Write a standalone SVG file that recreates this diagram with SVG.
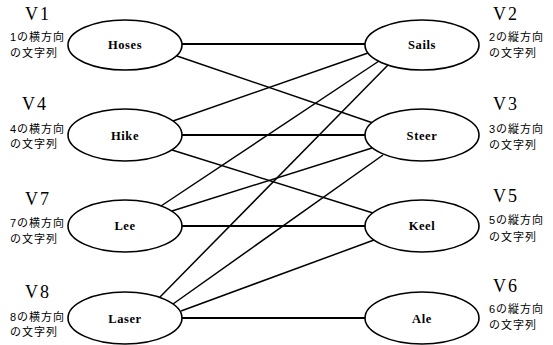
<svg xmlns="http://www.w3.org/2000/svg" width="553" height="345" viewBox="0 0 553 345">
<style>
.node ellipse{fill:#fff;stroke:#000;stroke-width:1.6}
.node text{font-family:"Liberation Serif",serif;font-weight:bold;font-size:12.5px;letter-spacing:0.6px;text-anchor:middle;fill:#000}
.v{font-family:"Liberation Serif",serif;font-size:18px;letter-spacing:2px;text-anchor:middle;fill:#000}
.jp{font-family:"Liberation Sans","Noto Sans CJK JP",sans-serif;font-size:11px;letter-spacing:1px;fill:#000}
#edges line{stroke:#000;stroke-width:1.5}
#edges line.h{stroke-width:2.2}
</style>
<rect width="553" height="345" fill="#fff"/>
<g id="edges">
<line class="h" x1="182" y1="44" x2="365" y2="44"/>
<line x1="177" y1="56" x2="373" y2="123"/>
<line x1="173" y1="121" x2="368" y2="53"/>
<line class="h" x1="182" y1="135" x2="365" y2="135"/>
<line x1="172" y1="150" x2="373" y2="213"/>
<line x1="161" y1="206" x2="379" y2="61"/>
<line x1="172" y1="211" x2="372" y2="148"/>
<line class="h" x1="182" y1="226" x2="365" y2="226"/>
<line x1="160" y1="297" x2="388" y2="65"/>
<line x1="173" y1="304" x2="383" y2="155"/>
<line x1="181" y1="311" x2="374" y2="240"/>
<line class="h" x1="182" y1="318" x2="365" y2="318"/>
</g>
<g id="hoses" class="node"><ellipse cx="125" cy="45" rx="57" ry="25"/><text x="125" y="49">Hoses</text></g>
<g id="hike" class="node"><ellipse cx="125" cy="135" rx="57" ry="26"/><text x="125" y="140">Hike</text></g>
<g id="lee" class="node"><ellipse cx="125" cy="226" rx="57" ry="26"/><text x="125" y="230">Lee</text></g>
<g id="laser" class="node"><ellipse cx="125" cy="318" rx="57" ry="26"/><text x="125" y="323">Laser</text></g>
<g id="sails" class="node"><ellipse cx="422" cy="45" rx="57" ry="25"/><text x="422" y="49">Sails</text></g>
<g id="steer" class="node"><ellipse cx="422" cy="135" rx="57" ry="26"/><text x="422" y="140">Steer</text></g>
<g id="keel" class="node"><ellipse cx="422" cy="226" rx="57" ry="26"/><text x="422" y="230">Keel</text></g>
<g id="ale" class="node"><ellipse cx="422" cy="318" rx="57" ry="26"/><text x="422" y="323">Ale</text></g>
<g id="labels">
<text class="v" x="38" y="20">V1</text>
<text class="jp" x="10" y="41">1の横方向</text><text class="jp" x="10" y="57">の文字列</text>
<text class="v" x="35" y="110">V4</text>
<text class="jp" x="10" y="133">4の横方向</text><text class="jp" x="10" y="148">の文字列</text>
<text class="v" x="38" y="205">V7</text>
<text class="jp" x="10" y="227">7の横方向</text><text class="jp" x="10" y="243">の文字列</text>
<text class="v" x="38" y="298">V8</text>
<text class="jp" x="10" y="321">8の横方向</text><text class="jp" x="10" y="336">の文字列</text>
<text class="v" x="506" y="20">V2</text>
<text class="jp" x="489" y="41">2の縦方向</text><text class="jp" x="489" y="57">の文字列</text>
<text class="v" x="506" y="110">V3</text>
<text class="jp" x="489" y="133">3の縦方向</text><text class="jp" x="489" y="149">の文字列</text>
<text class="v" x="506" y="202">V5</text>
<text class="jp" x="489" y="224">5の縦方向</text><text class="jp" x="489" y="241">の文字列</text>
<text class="v" x="506" y="292">V6</text>
<text class="jp" x="489" y="313">6の縦方向</text><text class="jp" x="489" y="329">の文字列</text>
</g>
</svg>
